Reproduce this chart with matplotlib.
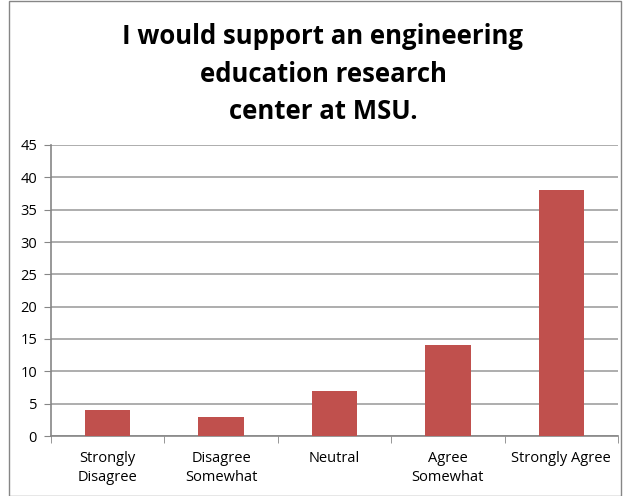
import matplotlib
matplotlib.use("Agg")
import matplotlib.pyplot as plt
from matplotlib.patches import Rectangle

categories = ["Strongly\nDisagree", "Disagree\nSomewhat", "Neutral", "Agree\nSomewhat", "Strongly Agree"]
counts = [4, 3, 7, 14, 38]
yticks = [0, 5, 10, 15, 20, 25, 30, 35, 40, 45]
title = "I would support an engineering\neducation research\ncenter at MSU."

plt.rcParams['font.family'] = ['Open Sans', 'DejaVu Sans']

W, H = 625, 496
fig = plt.figure(figsize=(W / 100, H / 100), dpi=100)
ax = fig.add_axes([51 / W, 1 - 436 / H, (618 - 51) / W, (436 - 145) / H])

x = list(range(len(categories)))
ax.bar(x, counts, width=0.4, color="#C0504D", zorder=3)

ax.set_xlim(-0.5, len(categories) - 0.5)
ax.set_ylim(0, 45)
ax.set_yticks(yticks)
ax.set_yticklabels([str(v) for v in yticks], fontsize=10.5)
ax.set_xticks(x)
ax.set_xticklabels(categories, fontsize=10.5, linespacing=1.3)
ax.tick_params(axis="x", length=0, pad=11)
ax.tick_params(axis="y", length=5, color="#868686", pad=5)

# boundary ticks between categories
ax.set_xticks([i - 0.5 for i in range(len(categories) + 1)], minor=True)
ax.tick_params(axis="x", which="minor", length=5, color="#868686")

ax.grid(axis="y", color="#A0A0A0", linewidth=1.2, zorder=0)
for side in ("top", "right"):
    ax.spines[side].set_visible(False)
for side in ("left", "bottom"):
    ax.spines[side].set_color("#868686")
    ax.spines[side].set_linewidth(1.2)

fig.text(323 / W, 1 - 74 / H, title, ha="center", va="center",
         fontsize=18.5, fontweight="bold", linespacing=1.5)

# chart-area border
fig.patches.append(Rectangle((9 / W, 0.5 / H), 612 / W, 1 - 1 / H,
                             transform=fig.transFigure, fill=False,
                             edgecolor="#868686", linewidth=1.0))

fig.savefig("out.png", dpi=100)
